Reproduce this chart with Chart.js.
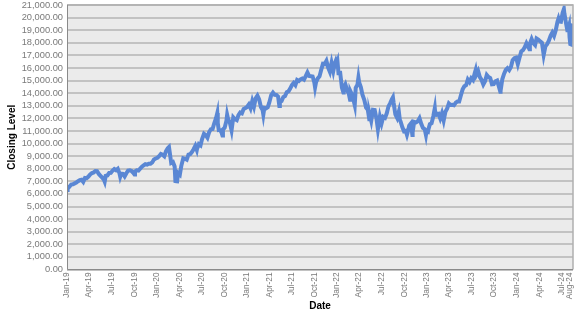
<!DOCTYPE html>
<html>
<head>
<meta charset="utf-8">
<script src="https://cdn.jsdelivr.net/npm/chart.js@4.4.1/dist/chart.umd.min.js"></script>
<style>
  html, body { margin: 0; padding: 0; background: #ffffff; }
  #wrap { width: 577px; height: 315px; }
</style>
</head>
<body>
<div id="wrap"><canvas id="c" width="577" height="315"></canvas></div>
<script>
// ---- Data (approximate closing levels) ----
const d2019 = ["01-02","01-03","01-04","01-11","01-18","01-25","02-01","02-08","02-15","02-22","03-01","03-08","03-15","03-22","03-29","04-05","04-12","04-18","04-26","05-03","05-10","05-17","05-24","05-31","06-03","06-07","06-14","06-21","06-28","07-05","07-12","07-19","07-26","08-02","08-05","08-09","08-16","08-23","08-30","09-06","09-13","09-20","09-27","10-02","10-04","10-11","10-18","10-25","11-01","11-08","11-15","11-22","11-29","12-06","12-13","12-20","12-27"];
const v2019 = [6360,6147,6423,6571,6750,6771,6840,6910,7010,7090,7130,6960,7270,7250,7380,7550,7650,7690,7810,7800,7590,7440,7290,7130,6979,7430,7470,7660,7670,7850,7970,7880,7990,7640,7370,7610,7590,7390,7640,7860,7880,7820,7680,7550,7780,7880,7860,8010,8160,8260,8360,8320,8400,8400,8500,8730,8810];

const d2020 = ["01-03","01-10","01-17","01-24","01-31","02-07","02-14","02-19","02-21","02-28","03-06","03-13","03-16","03-20","03-23","03-27","04-03","04-09","04-17","04-24","05-01","05-08","05-15","05-22","05-29","06-05","06-11","06-12","06-19","06-26","07-02","07-10","07-17","07-24","07-31","08-07","08-14","08-21","08-28","09-02","09-04","09-08","09-11","09-18","09-23","09-25","10-02","10-09","10-12","10-16","10-23","10-30","11-06","11-13","11-20","11-27","12-04","12-11","12-18","12-24","12-31"];
const v2020 = [8870,9000,9170,9110,8990,9400,9620,9718,9450,8460,8530,8180,7020,7000,6994,7660,7530,8230,8830,8790,8720,9120,9150,9320,9550,9820,9490,9590,9950,9850,10340,10770,10660,10460,10910,11130,11150,11630,12020,12420,11620,11080,11090,10940,10630,11120,11250,11800,12280,11930,11670,11050,12080,11930,11860,12260,12460,12400,12750,12800,12890];

const d2021 = ["01-08","01-15","01-22","01-29","02-05","02-12","02-19","02-26","03-05","03-08","03-12","03-19","03-26","04-01","04-09","04-16","04-23","04-30","05-07","05-12","05-14","05-21","05-28","06-04","06-11","06-18","06-25","07-02","07-09","07-16","07-23","07-30","08-06","08-13","08-20","08-27","09-03","09-10","09-17","09-24","10-01","10-04","10-08","10-15","10-22","10-29","11-05","11-12","11-19","11-26","12-03","12-10","12-17","12-23","12-27","12-31"];
const v2021 = [13100,12800,13370,12930,13600,13810,13510,12910,12670,12300,12830,12800,12890,13240,13850,14040,13870,13860,13720,12980,13300,13370,13690,13770,14070,14140,14360,14640,14810,14640,15040,14960,15100,15160,15080,15360,15650,15360,15340,15320,14860,14470,14880,15170,15330,15850,16340,16320,16570,16030,15700,16400,15760,16360,16570,16320];

const d2022 = ["01-03","01-07","01-14","01-21","01-27","01-28","02-04","02-11","02-18","02-23","02-25","03-04","03-11","03-14","03-18","03-25","03-29","04-01","04-08","04-14","04-22","04-29","05-06","05-12","05-13","05-20","05-27","06-03","06-10","06-16","06-17","06-24","07-01","07-08","07-15","07-22","07-29","08-05","08-12","08-16","08-19","08-26","09-02","09-09","09-13","09-16","09-23","09-30","10-07","10-12","10-14","10-21","10-28","11-03","11-04","11-10","11-11","11-18","11-25","12-02","12-09","12-16","12-23","12-28","12-30"];
const v2022 = [16500,15600,15610,14440,14050,14440,14700,14250,13950,13470,14130,13840,13300,13050,14420,14670,15240,14860,14460,13900,13450,12850,12680,11930,12390,11810,12680,12660,12000,11130,11260,12130,11590,12120,12040,12400,12950,13210,13530,13670,13210,12310,12040,12540,11890,11750,11310,10970,11010,10690,10830,11430,11600,10680,10900,11700,11720,11680,11770,12010,11560,11240,11140,10680,10940];

const d2023 = ["01-05","01-06","01-13","01-20","01-27","02-02","02-03","02-10","02-17","02-24","03-03","03-10","03-17","03-24","03-31","04-06","04-14","04-21","04-28","05-05","05-12","05-19","05-26","06-02","06-09","06-16","06-23","06-30","07-07","07-14","07-18","07-21","07-28","08-04","08-11","08-18","08-25","09-01","09-08","09-15","09-22","09-29","10-06","10-13","10-20","10-26","10-27","11-03","11-10","11-17","11-24","12-01","12-08","12-15","12-22","12-29"];
const v2023 = [10910,11040,11540,11620,12170,12800,12570,12300,12360,11990,12400,11830,12520,12770,13180,13060,13080,13040,13250,13340,13340,13830,14300,14550,14630,15080,14890,15180,15040,15570,15840,15480,15760,15270,15050,14690,14940,15440,15280,15200,14700,14720,14940,15000,14540,14110,14180,15100,15530,15840,15980,15830,16080,16620,16780,16830];

const d2024 = ["01-05","01-12","01-19","01-26","02-02","02-09","02-16","02-21","02-23","03-01","03-08","03-15","03-21","03-28","04-05","04-12","04-19","04-26","05-03","05-10","05-17","05-24","05-31","06-07","06-14","06-18","06-21","06-28","07-05","07-10","07-12","07-19","07-24","07-26","07-31","08-02","08-05","08-07","08-09","08-15","08-16"];
const v2024 = [16310,16830,17310,17420,17640,17960,17690,17480,17940,18300,17960,17810,18340,18250,18110,18000,17040,17720,17890,18160,18550,18810,18540,19000,19660,19910,19700,19680,20390,20675,20330,19520,18990,19020,19360,18440,17895,17880,18510,19450,19510];

const xTickDates  = ["2019-01-01","2019-04-01","2019-07-01","2019-10-01","2020-01-01","2020-04-01","2020-07-01","2020-10-01","2021-01-01","2021-04-01","2021-07-01","2021-10-01","2022-01-01","2022-04-01","2022-07-01","2022-10-01","2023-01-01","2023-04-01","2023-07-01","2023-10-01","2024-01-01","2024-04-01","2024-07-01","2024-08-01"];
const xTickLabels = ["Jan-19","Apr-19","Jul-19","Oct-19","Jan-20","Apr-20","Jul-20","Oct-20","Jan-21","Apr-21","Jul-21","Oct-21","Jan-22","Apr-22","Jul-22","Oct-22","Jan-23","Apr-23","Jul-23","Oct-23","Jan-24","Apr-24","Jul-24","Aug-24"];

const yMin = 0, yMax = 21000, yStep = 1000;

// ---- Build points ----
const EPOCH = Date.UTC(2019, 0, 1);
function dayOf(iso) {
  const [y, m, d] = iso.split("-").map(Number);
  return (Date.UTC(y, m - 1, d) - EPOCH) / 864e5;
}
const years = [[2019, d2019, v2019], [2020, d2020, v2020], [2021, d2021, v2021],
               [2022, d2022, v2022], [2023, d2023, v2023], [2024, d2024, v2024]];
const points = [];
years.forEach(([yr, ds, vs]) => ds.forEach((md, i) => points.push({ x: dayOf(yr + "-" + md), y: vs[i] })));
const xTickValues = xTickDates.map(dayOf);

const FONT = "'Liberation Sans', Arial, sans-serif";

const plotBg = {
  id: 'plotBg',
  beforeDraw(chart) {
    const { ctx, chartArea: a } = chart;
    ctx.save();
    ctx.fillStyle = '#ebebeb';
    ctx.fillRect(a.left, a.top, a.right - a.left, a.bottom - a.top);
    ctx.restore();
  },
  afterDatasetsDraw(chart) {
    const { ctx, chartArea: a } = chart;
    ctx.save();
    ctx.strokeStyle = '#b0b0b0';
    ctx.lineWidth = 1.5;
    ctx.beginPath();
    ctx.moveTo(a.left, a.top);
    ctx.lineTo(a.right, a.top);
    ctx.lineTo(a.right, a.bottom);
    ctx.stroke();
    ctx.strokeStyle = '#8a8a8a';
    ctx.lineWidth = 1;
    ctx.beginPath();
    ctx.moveTo(a.left + 0.5, a.top);
    ctx.lineTo(a.left + 0.5, a.bottom);
    ctx.lineTo(a.right, a.bottom);
    ctx.stroke();
    ctx.restore();
  }
};

new Chart(document.getElementById('c'), {
  type: 'line',
  data: {
    datasets: [{
      data: points,
      borderColor: '#5a87d4',
      borderWidth: 4,
      pointRadius: 0,
      tension: 0,
      fill: false
    }]
  },
  options: {
    responsive: false,
    animation: false,
    events: [],
    layout: { padding: { top: 0, right: 0, left: 0, bottom: 0 } },
    plugins: { legend: { display: false }, tooltip: { enabled: false } },
    scales: {
      x: {
        type: 'linear',
        min: 0,
        max: points[points.length - 1].x,
        afterBuildTicks: (scale) => { scale.ticks = xTickValues.map(v => ({ value: v })); },
        afterFit: (scale) => { scale.height = 45.5; scale.paddingRight = 4; },
        ticks: {
          autoSkip: false,
          minRotation: 90,
          maxRotation: 90,
          padding: 3,
          color: '#7a7a7a',
          font: { family: FONT, size: 8.3 },
          callback: (v, i) => xTickLabels[i]
        },
        grid: { display: false, drawTicks: false },
        border: { display: false },
        title: {
          display: true,
          text: 'Date',
          color: '#000000',
          font: { family: FONT, size: 10, weight: 'bold' },
          padding: { top: 0, bottom: 3 }
        }
      },
      y: {
        min: yMin,
        max: yMax,
        afterFit: (scale) => { scale.width = 67; scale.paddingTop = 5; },
        ticks: {
          stepSize: yStep,
          autoSkip: false,
          padding: 4,
          color: '#7a7a7a',
          font: { family: FONT, size: 9.3 },
          callback: (v) => Number(v).toLocaleString('en-US', { minimumFractionDigits: 2, maximumFractionDigits: 2 })
        },
        grid: { color: '#c2c2c2', lineWidth: 2, drawTicks: false },
        border: { display: false },
        title: {
          display: true,
          text: 'Closing Level',
          color: '#000000',
          font: { family: FONT, size: 10, weight: 'bold' },
          padding: { top: 6.5, bottom: 0 }
        }
      }
    }
  },
  plugins: [plotBg]
});
</script>
</body>
</html>
